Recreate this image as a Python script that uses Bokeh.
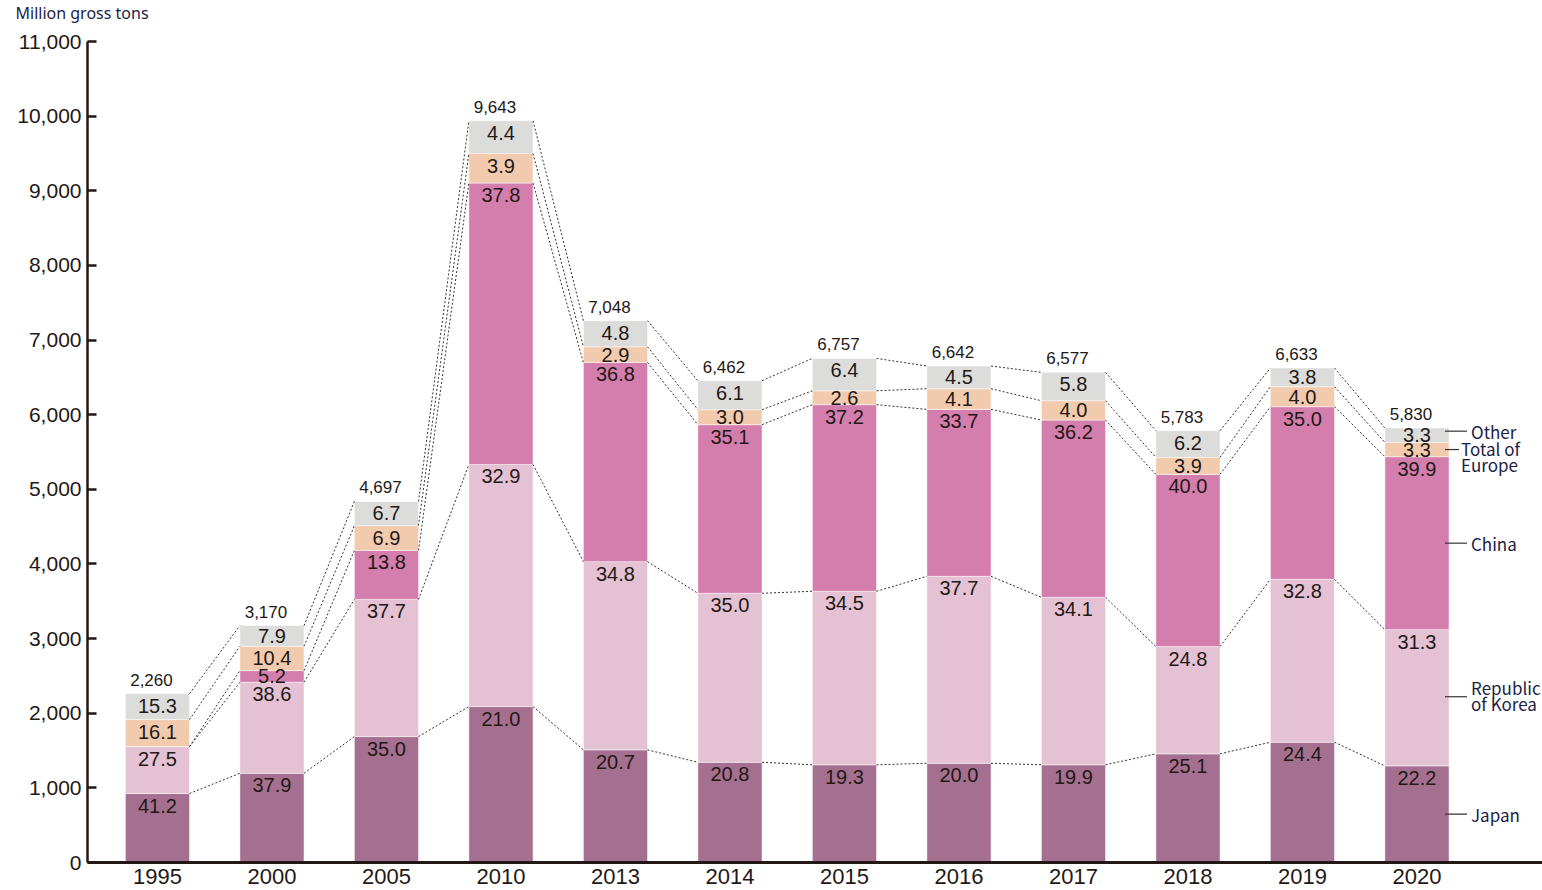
import numpy as np
from bokeh.plotting import figure
from bokeh.models import ColumnDataSource, Range1d, FixedTicker, NumeralTickFormatter
from bokeh.core.properties import value
from bokeh.embed import file_html
from bokeh.resources import INLINE

# ---------------- data ----------------
years = ["1995", "2000", "2005", "2010", "2013", "2014", "2015", "2016", "2017", "2018", "2019", "2020"]
totals = [2260, 3170, 4697, 9643, 7048, 6462, 6757, 6642, 6577, 5783, 6633, 5830]

# drawn segment heights (million gross tons)
japan = [924, 1196, 1687, 2089, 1509, 1343, 1309, 1330, 1309, 1456, 1611, 1295]
korea = [629, 1219, 1838, 3244, 2522, 2264, 2325, 2504, 2244, 1437, 2183, 1825]
china = [0, 156, 656, 3770, 2669, 2259, 2500, 2237, 2375, 2307, 2313, 2317]
europe = [362, 326, 332, 396, 210, 201, 186, 277, 259, 228, 268, 192]
other = [348, 277, 325, 438, 349, 388, 434, 304, 380, 358, 250, 193]

# share labels (%)
japan_pct = [41.2, 37.9, 35.0, 21.0, 20.7, 20.8, 19.3, 20.0, 19.9, 25.1, 24.4, 22.2]
korea_pct = [27.5, 38.6, 37.7, 32.9, 34.8, 35.0, 34.5, 37.7, 34.1, 24.8, 32.8, 31.3]
china_pct = [None, 5.2, 13.8, 37.8, 36.8, 35.1, 37.2, 33.7, 36.2, 40.0, 35.0, 39.9]
europe_pct = [16.1, 10.4, 6.9, 3.9, 2.9, 3.0, 2.6, 4.1, 4.0, 3.9, 4.0, 3.3]
other_pct = [15.3, 7.9, 6.7, 4.4, 4.8, 6.1, 6.4, 4.5, 5.8, 6.2, 3.8, 3.3]

series_keys = ["japan", "korea", "china", "europe", "other"]
series_names = ["Japan", "Republic\nof Korea", "China", "Total of\nEurope", "Other"]
colors = ["#a5708f", "#e4c1d3", "#d47eae", "#f2cbae", "#dcdddb"]

# ---------------- layout ----------------
W, H = 1542, 890
BL, BT, BB = 87, 41, 28
FH = H - BT - BB
FW = W - BL
YMAX = 11000
ppu = FH / YMAX
X0 = -0.611
X1 = X0 + FW / 114.5
xppu = FW / (X1 - X0)
BW = 0.56
INK = "#231815"
NAVY = "#1d1d45"
NUMFONT = "Liberation Sans"
LEGFONT = "Noto Sans CJK JP"

x = np.arange(len(years))
vals = np.vstack([japan, korea, china, europe, other]).astype(float)
pcts = [japan_pct, korea_pct, china_pct, europe_pct, other_pct]
cum = np.cumsum(vals, axis=0)
bottoms = cum - vals

p = figure(width=W, height=H, x_range=Range1d(X0, X1), y_range=Range1d(0, YMAX),
           output_backend="svg", toolbar_location=None,
           min_border_left=BL, min_border_right=0, min_border_top=BT, min_border_bottom=BB)
p.outline_line_color = None
p.xgrid.grid_line_color = None
p.ygrid.grid_line_color = None
p.background_fill_color = "white"
p.border_fill_color = "white"

# unit title (second, blank line lifts the first line to the top of the border)
p.title.text = "Million gross tons\n\u00a0"
p.title.align = "left"
p.title.offset = 15 - BL
p.title.vertical_align = "top"
p.title.standoff = 0
p.title.text_font = "Noto Sans"
p.title.text_font_size = "16px"
p.title.text_font_style = "normal"
p.title.text_color = NAVY
p.title.text_line_height = 0.72

# y axis
ya = p.yaxis[0]
ya.ticker = FixedTicker(ticks=list(range(0, YMAX + 1, 1000)))
ya.formatter = NumeralTickFormatter(format="0,0")
ya.axis_line_width = 2.5
ya.axis_line_color = INK
ya.major_tick_in = 9
ya.major_tick_out = 0
ya.major_tick_line_width = 2.5
ya.major_tick_line_color = INK
ya.minor_tick_line_color = None
ya.major_label_text_font = NUMFONT
ya.major_label_text_font_size = "21px"
ya.major_label_text_color = INK
ya.major_label_standoff = 6

# x axis
xa = p.xaxis[0]
xa.ticker = FixedTicker(ticks=list(range(len(years))))
xa.major_label_overrides = {int(i): yr for i, yr in enumerate(years)}
xa.major_tick_line_color = None
xa.minor_tick_line_color = None
xa.axis_line_width = 3
xa.axis_line_color = INK
xa.major_label_text_font = NUMFONT
xa.major_label_text_font_size = "22px"
xa.major_label_text_color = INK
xa.major_label_standoff = 0

# stacked bars
src = ColumnDataSource(dict(x=x, japan=japan, korea=korea, china=china, europe=europe, other=other))
p.vbar_stack(series_keys, x="x", width=BW, source=src, fill_color=colors,
             line_color="white", line_width=0.8, line_alpha=0.6)

# dotted connectors
x0s, y0s, x1s, y1s = [], [], [], []
for k in range(vals.shape[0]):
    for i in range(len(years) - 1):
        x0s.append(x[i] + BW / 2)
        y0s.append(cum[k, i])
        x1s.append(x[i + 1] - BW / 2)
        y1s.append(cum[k, i + 1])
p.segment(x0s, y0s, x1s, y1s, line_color="#333333", line_width=1, line_dash="2 2")

# segment labels
lx, ly, lt = [], [], []
for k in range(vals.shape[0]):
    for i in range(len(years)):
        pv = pcts[k][i]
        if pv is None:
            continue
        hpx = vals[k, i] * ppu
        off = min(12.0, hpx / 2.0)
        lx.append(x[i])
        ly.append(cum[k, i] - off / ppu)
        lt.append(f"{pv:.1f}")
p.text(lx, ly, text=lt, text_align="center", text_baseline="middle",
       text_font=value(NUMFONT), text_font_size="20px", text_color=INK)

# totals
p.text(x - 6 / xppu, cum[-1] + 14 / ppu, text=[f"{t:,}" for t in totals],
       text_align="center", text_baseline="middle",
       text_font=value(NUMFONT), text_font_size="17px", text_color=INK)

# right-hand legend with leader lines
last = len(years) - 1
mids = bottoms[:, last] + vals[:, last] / 2
shift_px = {"japan": 0, "korea": 1, "china": 0, "europe": 0, "other": 4}
lead_x0, lead_x1, lead_y, tx, ty = [], [], [], [], []
for k in range(vals.shape[0]):
    key = series_keys[k]
    is_eu = key == "europe"
    ly_k = mids[k] + shift_px[key] / ppu
    lead_x0.append(x[last] + BW / 2 - 4 / xppu)
    lead_x1.append(x[last] + BW / 2 + (10 if is_eu else 18) / xppu)
    lead_y.append(ly_k)
    tx.append(x[last] + BW / 2 + (12 if is_eu else 22) / xppu)
    ty.append(ly_k - (7 / ppu if is_eu else 0) + (1 / ppu if key == "korea" else 0))
p.segment(lead_x0, lead_y, lead_x1, lead_y, line_color="#333333", line_width=1.2)
p.text(tx, ty, text=series_names, text_align="left", text_baseline="middle",
       text_font=value(LEGFONT), text_font_size="17px", text_color=NAVY, text_line_height=0.66)

open("out.html", "w").write(file_html(p, INLINE))
